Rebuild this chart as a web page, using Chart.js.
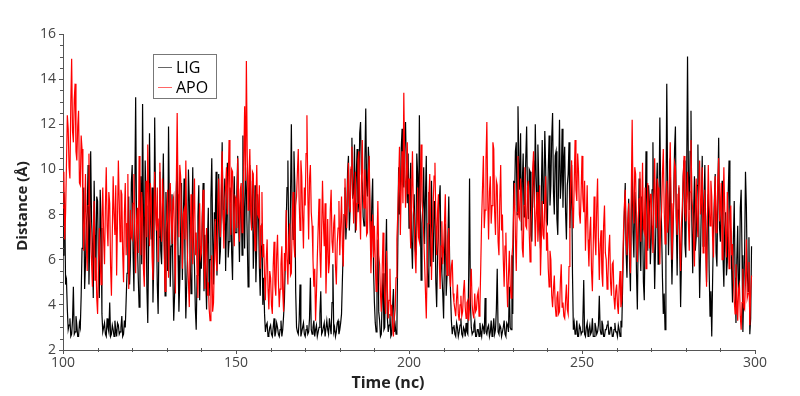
<!DOCTYPE html>
<html lang="en">
<head>
  <meta charset="UTF-8">
  <title>Distance vs Time</title>
  <script src="https://cdn.jsdelivr.net/npm/chart.js"></script>
</head>
<style>
  body {
      margin: 0;
      background: #fff;
  }
  #wrap {
      width: 800px;
      height: 396px;
  }
</style>
<body>
<div id="wrap"><canvas id="grafico" width="800" height="396"></canvas></div>

<script>
  // time axis: 100 .. 299 ns, one frame every 0.25 ns
  const tStart = 100;
  const tStep = 0.25;

  // LIG distance (Å), 10 ns per row
  const lig = [
    6.2, 9.0, 8.4, 4.9, 5.1, 3.8, 2.9, 3.1, 3.4, 2.6, 2.7, 3.3, 4.8, 2.7, 2.8, 3.5, 3.1, 2.6, 2.6, 3.2, 3.0, 4.4, 6.5, 8.3, 9.2, 4.7, 5.8, 7.6, 8.1, 10.2, 4.9, 6.9, 10.8, 7.8, 6.7, 4.3, 9.5, 7.1, 5.2, 8.8,
    8.6, 5.7, 4.3, 9.1, 7.4, 3.6, 2.8, 3.0, 3.2, 2.7, 2.6, 3.4, 3.0, 2.8, 4.1, 2.6, 2.7, 3.1, 2.9, 2.6, 3.3, 2.9, 2.6, 3.2, 3.1, 2.7, 2.8, 3.0, 3.5, 2.6, 2.7, 3.3, 3.0, 4.2, 5.4, 7.3, 8.8, 4.9, 6.1, 9.4,
    10.2, 6.3, 4.6, 8.9, 13.2, 7.7, 6.8, 5.2, 3.9, 7.1, 9.7, 5.8, 12.9, 8.1, 5.3, 10.4, 8.4, 4.7, 3.2, 6.6, 11.6, 8.0, 6.9, 9.2, 4.1, 6.0, 12.3, 8.6, 7.5, 4.9, 3.6, 7.0, 9.9, 6.4, 5.8, 8.3, 10.7, 7.2, 4.4, 9.0,
    7.8, 5.5, 11.9, 8.2, 4.8, 6.6, 8.9, 5.4, 3.3, 4.4, 6.7, 9.1, 10.4, 6.2, 3.7, 5.0, 7.2, 9.4, 5.1, 7.6, 9.6, 6.0, 3.4, 4.9, 6.3, 10.0, 8.7, 5.9, 4.5, 7.4, 10.1, 6.8, 5.7, 3.8, 2.9, 5.3, 7.9, 9.3, 4.2, 6.5,
    5.6, 7.9, 9.4, 4.6, 7.1, 5.2, 3.8, 6.8, 8.3, 4.4, 6.0, 8.7, 10.5, 7.0, 4.9, 8.1, 7.7, 9.9, 5.3, 7.4, 9.8, 5.8, 6.4, 8.5, 11.2, 8.0, 7.3, 9.6, 5.5, 7.8, 10.3, 6.1, 6.8, 9.2, 8.9, 6.3, 5.1, 8.4, 9.7, 7.2,
    7.2, 9.0, 10.6, 7.7, 5.9, 8.4, 8.8, 6.2, 11.5, 8.6, 6.5, 10.1, 9.1, 6.9, 4.8, 7.5, 10.2, 8.3, 7.4, 9.5, 5.6, 7.1, 9.3, 5.0, 6.8, 8.9, 8.1, 5.7, 4.4, 6.6, 7.6, 4.0, 5.2, 3.6, 2.8, 3.1, 3.2, 2.6, 2.7, 3.0,
    3.1, 2.7, 2.6, 3.0, 3.4, 2.6, 2.8, 3.2, 3.0, 2.7, 2.6, 2.9, 3.3, 2.6, 2.9, 3.5, 4.2, 5.9, 7.6, 9.2, 10.4, 6.6, 5.8, 8.7, 12.0, 7.9, 6.9, 10.8, 9.3, 4.6, 3.0, 2.8, 2.7, 3.3, 4.9, 2.6, 2.8, 3.0, 3.2, 2.7,
    2.6, 2.9, 3.1, 2.7, 2.8, 3.4, 5.2, 2.9, 2.7, 3.0, 3.3, 2.6, 2.9, 3.1, 2.6, 2.8, 3.0, 3.6, 4.6, 2.7, 2.8, 3.0, 3.2, 2.6, 2.6, 3.3, 2.9, 2.7, 3.4, 3.0, 2.7, 4.1, 5.8, 2.8, 3.0, 2.6, 2.8, 3.2, 3.3, 2.7,
    2.9, 3.2, 3.6, 5.1, 6.5, 8.0, 9.2, 6.9, 7.8, 9.9, 10.6, 7.3, 8.3, 10.0, 11.4, 8.7, 9.0, 11.1, 7.2, 9.7, 10.9, 8.1, 8.6, 11.6, 12.1, 9.8, 9.4, 7.9, 7.5, 10.4, 12.7, 9.3, 8.8, 11.0, 10.2, 7.7, 6.4, 8.5, 9.6, 5.6,
    4.1, 3.2, 2.8, 4.8, 6.9, 3.7, 3.3, 2.6, 2.7, 4.3, 5.4, 2.9, 3.0, 5.9, 7.8, 3.4, 2.8, 3.1, 3.6, 2.6, 2.7, 3.9, 4.7, 2.8, 3.1, 2.7, 2.8, 6.4, 10.1, 8.0, 8.7, 10.9, 11.8, 9.6, 9.2, 11.3, 12.1, 9.9, 8.5, 10.7,
    7.4, 9.1, 10.3, 6.8, 5.6, 8.0, 8.9, 6.5, 6.2, 10.7, 9.8, 7.3, 12.4, 8.5, 5.1, 7.6, 8.4, 10.1, 6.7, 8.8, 10.6, 6.0, 4.8, 9.0, 7.9, 5.7, 9.5, 7.2, 5.9, 8.6, 8.2, 5.0, 3.9, 6.3, 7.1, 8.7, 9.3, 6.1, 5.4, 4.5,
    3.4, 6.2, 7.6, 4.4, 5.3, 7.0, 8.8, 5.9, 4.6, 3.3, 2.7, 3.0, 3.1, 2.7, 2.6, 3.2, 3.0, 2.6, 2.8, 3.1, 3.4, 2.7, 2.6, 3.0, 2.9, 2.6, 3.2, 2.8, 2.7, 5.3, 9.6, 4.1, 3.0, 2.7, 2.8, 3.1, 3.3, 2.6, 2.6, 2.9,
    2.9, 2.6, 3.2, 2.8, 2.6, 3.1, 3.0, 2.7, 4.3, 2.8, 2.7, 3.0, 3.1, 2.6, 2.8, 3.3, 2.6, 2.9, 3.4, 2.7, 2.9, 3.8, 5.6, 2.8, 2.7, 3.1, 3.0, 2.6, 2.8, 3.0, 3.3, 2.7, 2.6, 3.2, 3.1, 2.8, 4.8, 3.0, 2.9, 6.2,
    3.6, 9.5, 8.4, 10.8, 11.2, 8.0, 12.8, 10.3, 9.1, 11.6, 7.3, 9.4, 10.7, 7.9, 8.6, 10.5, 11.9, 8.8, 7.8, 10.0, 9.9, 7.1, 6.8, 9.2, 10.4, 8.3, 12.0, 9.7, 8.2, 11.1, 9.6, 7.6, 6.5, 9.0, 11.3, 8.5, 8.9, 11.7, 10.1, 7.7,
    7.6, 10.0, 11.5, 8.4, 9.3, 11.4, 12.5, 9.0, 8.0, 10.6, 10.8, 7.8, 7.1, 9.6, 12.2, 8.7, 9.5, 11.8, 8.3, 10.3, 11.0, 8.1, 6.9, 9.3, 9.8, 11.2, 7.4, 8.6, 10.2, 5.4, 2.9, 3.2, 2.7, 2.8, 3.3, 2.6, 2.6, 3.1, 3.0, 2.7,
    2.8, 3.3, 5.1, 2.7, 2.6, 3.0, 3.2, 2.6, 2.9, 3.1, 2.7, 2.8, 3.4, 2.6, 2.6, 3.2, 3.0, 2.7, 2.8, 3.1, 4.4, 2.9, 2.7, 3.3, 3.1, 2.6, 2.6, 2.9, 2.9, 3.1, 3.3, 2.7, 2.7, 3.0, 3.0, 2.6, 2.6, 2.9, 3.2, 2.8,
    2.8, 2.6, 3.1, 2.9, 2.6, 3.3, 3.0, 4.9, 6.8, 8.1, 9.4, 6.3, 5.2, 7.5, 8.7, 5.9, 4.6, 8.0, 10.1, 7.2, 6.1, 9.0, 8.3, 5.4, 3.8, 7.1, 9.6, 6.6, 5.5, 8.8, 7.9, 5.0, 4.2, 7.4, 10.8, 8.2, 6.4, 9.3, 8.5, 5.8,
    6.9, 9.1, 11.2, 7.3, 4.7, 6.6, 9.0, 10.3, 5.8, 8.5, 12.3, 8.9, 7.4, 5.2, 3.6, 4.5, 2.9, 8.1, 13.8, 9.4, 6.2, 8.3, 10.5, 7.0, 4.9, 6.8, 8.7, 10.9, 11.9, 7.8, 5.3, 8.2, 9.2, 6.5, 3.9, 6.0, 7.6, 9.7, 10.4, 6.7,
    6.1, 9.6, 15.0, 9.9, 8.2, 10.8, 12.6, 7.7, 5.4, 8.0, 9.7, 6.4, 7.0, 9.3, 11.1, 7.5, 4.3, 6.2, 8.5, 10.6, 6.6, 8.4, 10.2, 7.2, 5.0, 7.9, 8.9, 5.5, 3.5, 4.6, 2.6, 5.1, 7.3, 8.6, 9.8, 6.3, 5.7, 8.8, 11.4, 7.4,
    6.8, 8.7, 9.5, 6.1, 4.8, 7.4, 8.1, 5.3, 5.9, 8.9, 10.4, 7.8, 7.2, 5.6, 4.1, 6.9, 8.6, 5.2, 3.2, 6.0, 7.5, 4.4, 5.0, 8.3, 9.1, 6.2, 2.8, 4.7, 6.3, 9.9, 8.4, 5.5, 4.6, 7.0, 2.7, 3.4, 6.6
  ];

  // APO distance (Å), 10 ns per row
  const apo = [
    8.3, 9.9, 6.9, 8.1, 10.2, 12.4, 11.8, 10.1, 9.6, 12.9, 14.9, 11.7, 11.2, 13.1, 13.8, 10.8, 10.4, 11.9, 12.6, 9.4, 9.3, 11.5, 10.9, 8.2, 6.4, 7.9, 9.8, 6.7, 5.5, 8.4, 10.7, 8.0, 7.2, 5.9, 4.8, 7.0, 8.6, 5.1, 6.1, 4.3,
    3.6, 5.8, 7.4, 6.0, 4.9, 7.8, 9.2, 6.9, 5.8, 8.3, 10.1, 7.5, 6.6, 9.0, 8.5, 5.7, 4.4, 7.2, 9.7, 8.0, 7.1, 9.3, 5.3, 7.7, 10.4, 8.6, 6.8, 9.1, 8.9, 6.3, 5.0, 8.1, 9.4, 6.2, 7.6, 9.8, 4.7, 6.5, 8.2, 7.0,
    6.9, 8.5, 9.8, 7.1, 5.4, 7.7, 8.3, 6.3, 10.6, 8.2, 6.2, 9.0, 7.9, 5.6, 4.8, 7.4, 9.5, 7.0, 11.1, 8.8, 6.6, 9.4, 8.7, 6.1, 5.1, 7.6, 9.9, 8.1, 7.3, 9.2, 5.9, 7.8, 10.3, 7.5, 6.8, 9.6, 8.6, 6.4, 4.6, 7.2,
    7.8, 9.1, 5.2, 7.3, 9.4, 7.9, 6.7, 8.6, 8.8, 6.4, 4.5, 9.3, 12.5, 8.9, 7.0, 10.2, 9.7, 7.6, 5.6, 8.0, 8.2, 6.9, 10.4, 7.4, 6.0, 5.0, 3.9, 6.6, 8.9, 7.1, 5.8, 8.3, 9.6, 6.2, 7.2, 5.4, 4.3, 7.0, 8.5, 6.1,
    6.3, 7.7, 9.1, 5.9, 4.7, 6.5, 7.4, 4.4, 5.0, 3.8, 3.3, 5.4, 6.2, 3.7, 4.1, 5.9, 7.8, 6.0, 5.5, 8.4, 9.6, 7.8, 7.0, 9.5, 10.8, 8.2, 6.5, 8.7, 9.2, 10.1, 8.0, 9.4, 11.3, 8.6, 7.1, 10.0, 9.9, 7.7, 6.6, 8.8,
    8.7, 7.4, 10.5, 8.8, 6.8, 9.1, 9.4, 7.2, 7.6, 10.3, 12.8, 9.5, 14.8, 10.6, 8.2, 9.7, 10.9, 8.3, 7.3, 9.9, 9.8, 7.6, 6.4, 8.5, 10.2, 8.0, 7.9, 9.3, 5.6, 7.5, 9.0, 6.1, 6.7, 5.3, 4.2, 6.0, 6.9, 4.7, 3.8, 5.5,
    5.2, 4.0, 3.6, 5.7, 6.8, 4.9, 4.4, 6.2, 7.1, 5.1, 3.9, 4.7, 5.8, 6.6, 4.6, 3.7, 6.3, 5.5, 8.2, 6.0, 4.9, 6.9, 7.6, 5.3, 5.4, 7.8, 9.0, 6.7, 6.1, 8.4, 8.8, 9.9, 10.9, 8.6, 7.3, 10.4, 9.7, 7.9, 6.5, 9.2,
    8.4, 10.7, 12.4, 9.0, 6.9, 9.6, 10.2, 8.1, 7.5, 6.0, 4.8, 5.6, 3.3, 4.5, 6.1, 7.4, 8.7, 6.4, 5.2, 7.2, 9.5, 7.7, 6.6, 8.5, 4.5, 6.2, 7.8, 5.4, 5.9, 8.2, 9.1, 6.8, 6.3, 7.6, 8.0, 5.7, 4.9, 6.7, 7.4, 8.6,
    6.2, 7.5, 8.8, 6.6, 5.7, 8.0, 9.6, 7.9, 7.4, 9.1, 10.3, 8.4, 8.1, 10.1, 11.0, 9.2, 7.6, 8.7, 9.9, 7.3, 8.5, 10.4, 10.8, 8.2, 6.9, 9.5, 11.3, 8.9, 8.3, 10.0, 9.4, 7.1, 7.2, 9.8, 10.6, 7.7, 5.4, 6.8, 8.0, 6.1,
    7.5, 5.9, 4.6, 6.8, 8.6, 6.2, 5.8, 4.5, 3.7, 5.5, 7.2, 5.0, 4.3, 3.6, 6.4, 4.8, 3.4, 4.2, 5.6, 3.5, 4.0, 3.1, 2.6, 3.4, 3.8, 5.2, 6.9, 8.0, 9.4, 11.0, 7.1, 9.2, 10.8, 8.5, 13.4, 10.2, 8.3, 9.8, 11.2, 8.9,
    9.6, 7.8, 6.5, 8.9, 10.8, 8.3, 7.9, 6.2, 5.4, 7.3, 9.2, 7.0, 6.8, 9.5, 11.1, 8.6, 8.0, 7.1, 5.9, 4.6, 3.4, 5.7, 7.6, 8.8, 9.8, 7.4, 5.1, 6.9, 8.5, 9.7, 10.3, 7.9, 6.2, 8.1, 8.9, 6.0, 4.7, 6.6, 7.7, 5.8,
    6.5, 7.6, 8.9, 6.3, 5.3, 6.8, 7.4, 5.5, 4.8, 5.7, 6.0, 4.5, 4.1, 3.8, 3.5, 4.3, 4.9, 3.6, 3.3, 4.0, 4.4, 3.5, 3.7, 4.6, 5.1, 3.9, 3.4, 4.1, 4.2, 3.3, 3.9, 4.8, 5.6, 4.0, 3.6, 3.4, 4.5, 3.7, 3.8, 4.4,
    4.6, 3.5, 3.9, 5.8, 7.8, 9.2, 10.6, 7.4, 8.2, 10.4, 12.1, 8.8, 6.9, 9.0, 9.7, 7.6, 8.4, 11.2, 10.9, 8.1, 7.1, 9.5, 9.3, 6.8, 6.2, 8.7, 10.2, 7.3, 8.0, 6.0, 4.8, 6.6, 7.2, 5.1, 3.9, 5.3, 6.4, 4.9, 4.3, 6.1,
    6.7, 8.2, 9.4, 7.0, 5.5, 8.1, 10.6, 7.9, 7.8, 9.6, 8.9, 6.5, 6.1, 8.4, 10.1, 7.5, 7.4, 9.2, 9.5, 7.2, 5.9, 7.6, 8.3, 10.0, 10.8, 8.5, 6.6, 8.0, 9.0, 6.8, 7.7, 9.3, 5.3, 6.9, 8.6, 7.1, 6.9, 8.8, 9.7, 6.4,
    7.2, 5.6, 4.8, 6.4, 6.0, 4.4, 3.9, 4.7, 5.3, 4.0, 3.5, 4.3, 4.6, 3.6, 3.7, 5.0, 5.8, 3.9, 4.1, 3.5, 3.4, 4.2, 4.9, 3.8, 3.6, 5.7, 8.2, 9.6, 10.4, 8.3, 7.4, 9.4, 11.3, 9.1, 8.6, 10.7, 9.9, 8.0, 7.6, 9.0,
    10.6, 8.7, 8.1, 9.5, 6.4, 7.8, 9.3, 6.9, 5.7, 7.2, 7.9, 5.5, 4.6, 6.6, 8.8, 7.0, 6.2, 8.3, 9.6, 6.8, 5.1, 6.7, 7.3, 5.4, 4.8, 7.5, 8.4, 6.3, 6.0, 4.7, 5.2, 6.5, 7.1, 5.0, 4.4, 5.8, 5.9, 4.3, 3.8, 4.6,
    4.9, 4.0, 3.6, 4.8, 5.5, 3.9, 4.2, 5.6, 7.3, 8.4, 9.1, 7.0, 6.2, 7.7, 8.5, 6.5, 5.4, 9.0, 12.2, 8.6, 7.6, 10.1, 9.8, 7.3, 5.9, 7.8, 8.7, 9.9, 6.8, 8.2, 10.3, 7.4, 7.2, 9.2, 5.6, 7.1, 9.4, 8.0, 6.5, 8.9,
    8.9, 7.5, 6.3, 8.6, 10.5, 8.0, 7.4, 9.6, 9.2, 7.1, 5.8, 7.7, 8.1, 9.8, 10.9, 8.3, 6.7, 8.8, 9.5, 7.2, 7.8, 9.4, 11.2, 8.5, 6.0, 7.4, 8.6, 10.3, 10.1, 7.9, 7.1, 8.9, 9.3, 6.9, 5.5, 7.6, 8.4, 9.7, 10.6, 8.1,
    7.7, 8.8, 9.9, 7.6, 6.4, 9.0, 11.3, 8.7, 8.2, 6.8, 5.7, 8.1, 9.6, 7.8, 7.0, 9.3, 10.4, 8.0, 8.5, 10.1, 6.3, 7.5, 9.1, 6.6, 4.8, 7.9, 10.2, 8.4, 7.5, 9.5, 8.8, 6.9, 6.1, 8.3, 9.7, 7.2, 7.9, 9.4, 10.5, 7.7,
    8.3, 9.4, 6.0, 7.9, 10.1, 8.2, 7.2, 6.1, 9.0, 7.4, 5.6, 8.0, 8.4, 6.2, 6.7, 5.1, 4.2, 3.6, 5.8, 4.4, 3.3, 4.7, 4.9, 3.5, 2.9, 4.1, 5.6, 3.9, 3.8, 5.0, 6.9, 4.3, 4.5, 5.9, 3.1, 4.6, 5.3
  ];

  const xTicks = [100, 150, 200, 250, 300];
  const yTicks = [2, 4, 6, 8, 10, 12, 14, 16];
  const xTitle = 'Time (nc)';
  const yTitle = 'Distance (Å)';

  const times = lig.map((v, i) => tStart + i * tStep);
  const toPoints = arr => arr.map((v, i) => ({ x: times[i], y: v }));

  const eixoCor = '#555';
  const fonte = "'Open Sans', 'Noto Sans', sans-serif";

  // minor ticks (x every 10, y every 0.5), axis titles and the legend box
  const extras = {
    id: 'extras',
    afterDraw(chart) {
      const ctx = chart.ctx;
      const xs = chart.scales.x, ys = chart.scales.y;
      const area = chart.chartArea;
      ctx.save();
      ctx.strokeStyle = eixoCor;
      ctx.lineWidth = 1;
      ctx.beginPath();
      for (let t = 110; t < 300; t += 10) {
        if (t % 50 === 0) continue;
        const px = Math.round(xs.getPixelForValue(t)) + 0.5;
        ctx.moveTo(px, area.bottom - 2);
        ctx.lineTo(px, area.bottom + 2);
      }
      for (let d = 2.5; d < 16; d += 0.5) {
        if (d % 2 === 0) continue;
        const py = Math.round(ys.getPixelForValue(d)) + 0.5;
        ctx.moveTo(area.left - 3, py);
        ctx.lineTo(area.left + 1, py);
      }
      ctx.stroke();

      // axis titles (sit a bit off the plot centre in the original)
      ctx.fillStyle = '#222';
      ctx.textAlign = 'center';
      ctx.textBaseline = 'middle';
      ctx.font = 'bold 16px ' + fonte;
      ctx.fillText(xTitle, 388, 383);
      ctx.save();
      ctx.translate(23, 206);
      ctx.rotate(-Math.PI / 2);
      ctx.font = 'bold 15px ' + fonte;
      ctx.fillText(yTitle, 0, 0);
      ctx.restore();

      // legend
      const lx = area.left + 90, ly = area.top + 20;
      ctx.fillStyle = '#fff';
      ctx.fillRect(lx, ly, 63, 44);
      ctx.strokeStyle = '#777';
      ctx.strokeRect(lx + 0.5, ly + 0.5, 63, 44);
      ctx.font = '16px ' + fonte;
      ctx.textAlign = 'left';
      chart.data.datasets.forEach((ds, i) => {
        const yy = ly + 13 + i * 20;
        ctx.strokeStyle = ds.borderColor;
        ctx.globalAlpha = 0.6;
        ctx.beginPath();
        ctx.moveTo(lx + 5, yy + 0.5);
        ctx.lineTo(lx + 19, yy + 0.5);
        ctx.stroke();
        ctx.globalAlpha = 1;
        ctx.fillStyle = '#000';
        ctx.fillText(ds.label, lx + 23, yy + 1);
      });
      ctx.restore();
    }
  };

  const ctx = document.getElementById('grafico').getContext('2d');
  new Chart(ctx, {
    type: 'line',
    data: {
      datasets: [{
        label: 'LIG',
        data: toPoints(lig),
        borderColor: '#000000',
        borderWidth: 1.2,
        pointRadius: 0,
        order: 2
      }, {
        label: 'APO',
        data: toPoints(apo),
        borderColor: '#ff0000',
        borderWidth: 1.2,
        pointRadius: 0,
        order: 1
      }]
    },
    options: {
      responsive: false,
      animation: false,
      layout: { padding: { top: 34, right: 45, left: 0, bottom: 0 } },
      plugins: { legend: { display: false }, tooltip: { enabled: false } },
      scales: {
        x: {
          type: 'linear',
          min: 100,
          max: 300,
          afterBuildTicks: s => { s.ticks = xTicks.map(v => ({ value: v })); },
          afterFit: s => { s.height = 46; },
          border: { color: eixoCor },
          grid: { drawOnChartArea: false, tickLength: 4, color: eixoCor },
          ticks: { color: '#444', font: { family: fonte, size: 14 }, padding: 1, maxRotation: 0 },
          title: { display: false }
        },
        y: {
          min: 2,
          max: 16,
          afterBuildTicks: s => { s.ticks = yTicks.map(v => ({ value: v })); },
          afterFit: s => { s.width = 63; },
          border: { color: eixoCor },
          grid: { drawOnChartArea: false, tickLength: 4, color: eixoCor },
          ticks: { color: '#444', font: { family: fonte, size: 14 }, padding: 3 },
          title: { display: false }
        }
      }
    },
    plugins: [extras]
  });
</script>
</body>
</html>
